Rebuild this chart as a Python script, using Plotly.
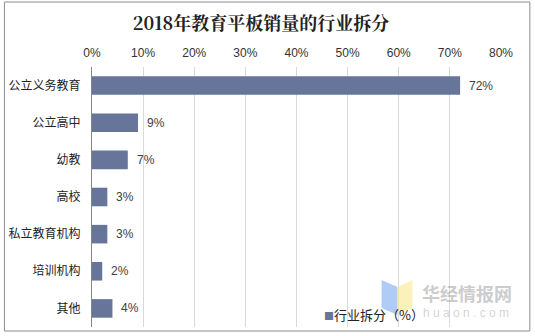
import plotly.graph_objects as go

# Share of 2018 education-tablet sales by sector
categories = ["公立义务教育", "公立高中", "幼教", "高校", "私立教育机构", "培训机构", "其他"]
shares = [72, 9, 7, 3, 3, 2, 4]
series_name = "行业拆分（%）"
bar_color = "#67759a"

values = [v / 100 for v in shares]
labels = [f"{v}%" for v in shares]

font_cjk = "Noto Sans CJK SC, Liberation Sans, sans-serif"
font_latin = "Liberation Sans, Arial, sans-serif"

W, H = 535, 336
M_L, M_R, M_T, M_B = 90, 34, 67, 9
PW, PH = W - M_L - M_R, H - M_T - M_B


def px_x(x):
    """Pixel column -> paper x."""
    return (x - M_L) / PW


def px_y(y):
    """Pixel row -> paper y."""
    return (H - M_B - y) / PH


fig = go.Figure(
    go.Bar(
        x=values,
        y=categories,
        orientation="h",
        name=series_name,
        marker=dict(color=bar_color, line=dict(width=0)),
        showlegend=False,
    )
)

# value labels just right of each bar end
annotations = [
    dict(
        x=v, y=c, xref="x", yref="y",
        text=t, showarrow=False,
        xanchor="left", yanchor="middle", xshift=7,
        font=dict(size=12, color="#404040", family=font_latin),
    )
    for v, c, t in zip(values, categories, labels)
]

# series key at the lower right
annotations.append(
    dict(
        x=px_x(321), y=px_y(314), xref="paper", yref="paper",
        text=f"<span style='color:{bar_color};font-size:10px'>■</span>{series_name}",
        showarrow=False, xanchor="left", yanchor="middle",
        font=dict(size=13, color="#222222", family=font_cjk),
    )
)

# watermark
annotations += [
    dict(
        x=px_x(467), y=px_y(293), xref="paper", yref="paper",
        text="<b>华经情报网</b>", showarrow=False,
        xanchor="center", yanchor="middle",
        font=dict(size=18, color="rgba(160,160,160,0.55)", family=font_cjk),
    ),
    dict(
        x=px_x(466), y=px_y(313), xref="paper", yref="paper",
        text="h u a o n . c o m", showarrow=False,
        xanchor="center", yanchor="middle",
        font=dict(size=12, color="rgba(170,170,170,0.5)", family=font_latin),
    ),
]

shapes = [
    # outer frame
    dict(
        type="rect", xref="paper", yref="paper",
        x0=px_x(2), x1=px_x(530), y0=px_y(331), y1=px_y(2),
        line=dict(color="#8c8c8c", width=1),
        fillcolor="rgba(0,0,0,0)", layer="below",
    ),
    # watermark logo: two folded panels
    dict(
        type="path", xref="paper", yref="paper",
        path=(f"M {px_x(381)},{px_y(280)} L {px_x(397)},{px_y(287)} "
              f"L {px_x(397)},{px_y(315)} L {px_x(381)},{px_y(308)} Z"),
        fillcolor="rgba(120,170,240,0.6)", line=dict(width=0), layer="above",
    ),
    dict(
        type="path", xref="paper", yref="paper",
        path=(f"M {px_x(397)},{px_y(287)} L {px_x(412)},{px_y(280)} "
              f"L {px_x(412)},{px_y(308)} L {px_x(397)},{px_y(315)} Z"),
        fillcolor="rgba(252,232,140,0.6)", line=dict(width=0), layer="above",
    ),
]

fig.update_layout(
    width=W,
    height=H,
    margin=dict(l=M_L, r=M_R, t=M_T, b=M_B),
    paper_bgcolor="white",
    plot_bgcolor="white",
    bargap=0.5,
    showlegend=False,
    title=dict(
        text="<b>2018年教育平板销量的行业拆分</b>",
        x=px_x(261) * PW / W + M_L / W,
        xanchor="center",
        y=1 - 24 / H,
        yanchor="middle",
        font=dict(size=18, color="#222222", family="Noto Serif CJK SC, Noto Sans CJK SC, serif"),
    ),
    xaxis=dict(
        side="top",
        range=[0, 0.8],
        dtick=0.1,
        tickformat=".0%",
        showgrid=True,
        gridcolor="#d9d9d9",
        gridwidth=1,
        zeroline=False,
        showline=False,
        ticks="",
        ticklabelstandoff=7,
        tickfont=dict(size=12, color="#333333", family=font_latin),
        fixedrange=True,
    ),
    yaxis=dict(
        autorange="reversed",
        showline=True,
        linecolor="#868686",
        linewidth=1,
        ticks="",
        ticklabelstandoff=8,
        tickfont=dict(size=12, color="#222222", family=font_cjk),
        fixedrange=True,
    ),
    shapes=shapes,
    annotations=annotations,
)

fig.write_html("out.html")
